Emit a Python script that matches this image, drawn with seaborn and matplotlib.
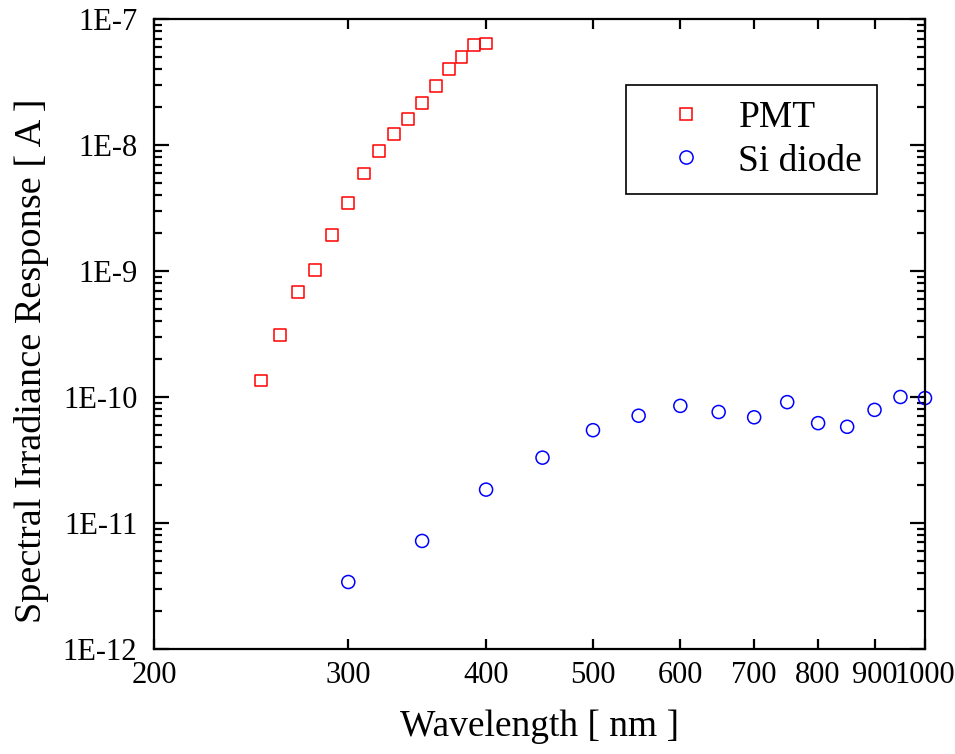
import seaborn as sns
import matplotlib.pyplot as plt
import matplotlib.ticker as mticker
from matplotlib.lines import Line2D
import numpy as np

# PMT response (square markers)
pmt_wl = [250, 260, 270, 280, 290, 300, 310, 320, 330, 340, 350, 360, 370, 380, 390, 400]
pmt_resp = [1.35e-10, 3.1e-10, 6.8e-10, 1.02e-9, 1.92e-9, 3.45e-9, 5.95e-9, 8.95e-9,
            1.22e-8, 1.6e-8, 2.15e-8, 2.95e-8, 4.0e-8, 5.0e-8, 6.2e-8, 6.4e-8]

# Si diode response (circle markers)
si_wl = [300, 350, 400, 450, 500, 550, 600, 650, 700, 750, 800, 850, 900, 950, 1000]
si_resp = [3.4e-12, 7.2e-12, 1.84e-11, 3.3e-11, 5.45e-11, 7.1e-11, 8.5e-11, 7.6e-11,
           6.9e-11, 9.1e-11, 6.2e-11, 5.8e-11, 7.9e-11, 1.0e-10, 9.8e-11]

x_ticks = [200, 300, 400, 500, 600, 700, 800, 900, 1000]
y_ticks = [1e-12, 1e-11, 1e-10, 1e-9, 1e-8, 1e-7]
y_labels = ["1E-12", "1E-11", "1E-10", "1E-9", "1E-8", "1E-7"]

sns.set_style("ticks")
plt.rcParams['font.family'] = ['Liberation Serif', 'DejaVu Serif']
plt.rcParams['text.color'] = 'black'
plt.rcParams['axes.labelcolor'] = 'black'

fig = plt.figure(figsize=(9.55, 7.54), dpi=100)
ax = fig.add_axes([0.1613, 0.1393, 0.8073, 0.8355])

sns.scatterplot(x=pmt_wl, y=pmt_resp, marker='s', s=72, facecolor='none',
                edgecolor='red', linewidth=1.1, ax=ax, clip_on=False)
sns.scatterplot(x=si_wl, y=si_resp, marker='o', s=88, facecolor='none',
                edgecolor='blue', linewidth=1.1, ax=ax, clip_on=False)

ax.set_xscale('log')
ax.set_yscale('log')
ax.set_xlim(200, 1000)
ax.set_ylim(1e-12, 1e-7)

ax.xaxis.set_major_locator(mticker.FixedLocator(x_ticks))
ax.xaxis.set_major_formatter(mticker.FixedFormatter([str(t) for t in x_ticks]))
ax.xaxis.set_minor_locator(mticker.NullLocator())
ax.yaxis.set_major_locator(mticker.FixedLocator(y_ticks))
ax.yaxis.set_major_formatter(mticker.FixedFormatter(y_labels))
ax.yaxis.set_minor_locator(mticker.LogLocator(base=10, subs=np.arange(2, 10), numticks=20))
ax.yaxis.set_minor_formatter(mticker.NullFormatter())

for spine in ax.spines.values():
    spine.set_visible(True)
    spine.set_linewidth(1.6)
    spine.set_color('black')

ax.tick_params(axis='both', which='both', direction='in', top=True, right=True,
               colors='black', labelcolor='black', labelsize=22)
ax.tick_params(axis='x', which='major', length=7, width=1.6, pad=9)
ax.tick_params(axis='y', which='major', length=11, width=1.6, pad=12)
ax.tick_params(axis='y', which='minor', length=6, width=1.6)

ax.set_xlabel('Wavelength [ nm ]', fontsize=27, labelpad=14)
ax.set_ylabel('Spectral Irradiance Response [ A ]', fontsize=27.5, labelpad=10)
ax.yaxis.label.set_y(0.457)

handles = [
    Line2D([], [], linestyle='', marker='s', markersize=8.5, markerfacecolor='none',
           markeredgecolor='red', markeredgewidth=1.1, label='PMT'),
    Line2D([], [], linestyle='', marker='o', markersize=9.5, markerfacecolor='none',
           markeredgecolor='blue', markeredgewidth=1.1, label='Si diode'),
]
leg = ax.legend(handles=handles, loc='upper right', bbox_to_anchor=(0.938, 0.895),
                borderaxespad=0, fontsize=27, fancybox=False, framealpha=1,
                edgecolor='black', handletextpad=0.2, borderpad=0.4,
                labelspacing=0.25, handlelength=2.4)
leg.get_frame().set_linewidth(1.2)

fig.savefig('out.png', dpi=100)
